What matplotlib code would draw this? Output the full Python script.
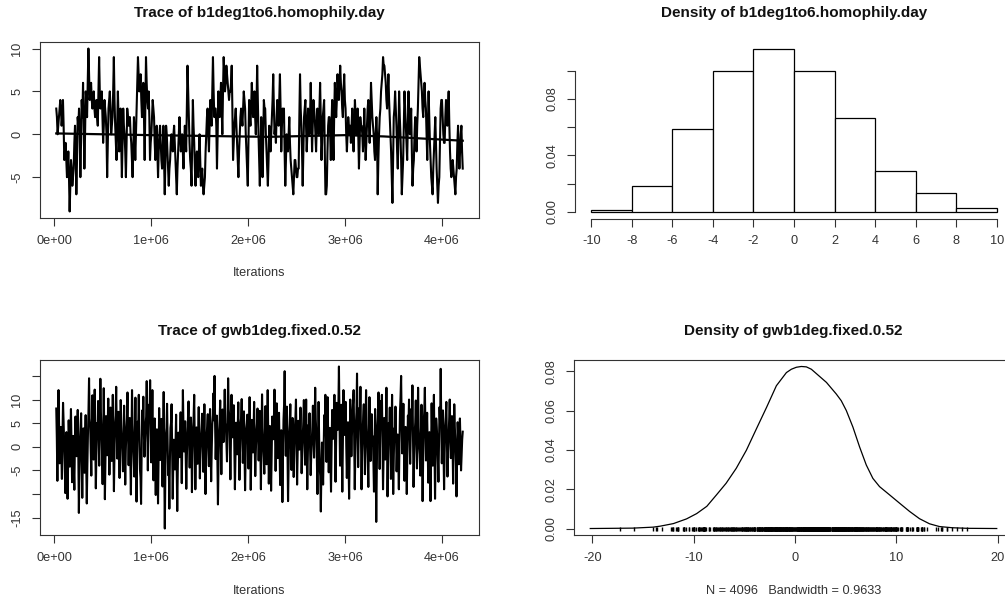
import numpy as np
import matplotlib.pyplot as plt

plt.rcParams['font.family'] = ['Liberation Sans', 'DejaVu Sans']
plt.rcParams['path.simplify'] = False

W, H = 1005, 603

# thinned MCMC sample: first and last iteration
iter_start, iter_end = 20480, 4213760

# trace of b1deg1to6.homophily.day
homophily = [
    3, 2, 0, 1, 2, 3, 4, 3, 1, 2, 4, 1, -3, -2, -1, -3, -5, -4, -2, -5,
    -9, -6, -3, -4, -6, -5, -4, -1, 1, -2, -7, -3, 2, 1, 3, 0, -5, -1, 4, 2,
    6, 1, -4, 0, 5, 4, 2, 6, 10, 7, 4, 5, 6, 4, 3, 4, 5, 3, 2, 3,
    4, 2, 1, 5, 9, 5, 3, 4, 5, 2, -1, 1, 4, 3, 2, 0, -5, -1, 3, 4,
    5, 3, 0, 1, 2, 5, 9, 4, 1, -1, -3, 1, 5, 2, -2, 0, 3, -1, -5, -1,
    3, 1, 0, -2, -5, -1, 3, 2, 1, 2, 2, 0, -1, -3, -5, -2, 2, 0, -3, 0,
    3, 6, 9, 7, 5, 6, 7, 4, 2, 4, 6, 2, -3, 3, 9, 6, 4, 3, 5, 2,
    -3, -1, 0, 2, 4, 3, 2, -1, -3, -1, 1, -2, -5, -2, 0, 1, -1, -3, -4, -2,
    1, -3, -7, -3, 1, 0, -2, -4, -6, -4, -3, -1, 0, -1, -2, 0, 1, -1, -3, -5,
    -7, -4, -2, 0, 2, 0, -2, -1, 0, -2, -4, -1, 1, 0, -2, 3, 8, 5, 2, -1,
    -3, -4, -6, -1, 4, 1, -1, -4, -6, -3, -2, -4, -5, -2, 0, -3, -6, -5, -4, -6,
    -7, -6, -5, -2, 0, 2, 3, 0, -2, 1, 4, 2, 1, 5, 9, 5, 2, 3, 3, 1,
    -4, 0, 5, 3, 2, 4, 6, 3, 0, 5, 9, 7, 5, 6, 8, 7, 6, 5, 4, 5,
    5, 6, 8, 3, -3, -1, 1, 2, 3, 1, -1, -3, -5, -2, 0, 2, 3, 2, 1, 3,
    5, 4, 3, 0, -2, -4, -6, -1, 4, 2, 1, 3, 6, 4, 2, 3, 5, 2, 0, 3,
    8, 4, 0, -3, -6, -2, 2, -1, -5, -1, 4, 3, 3, 0, -2, -4, -6, -3, 1, 0,
    -2, 0, 2, 4, 7, 3, 0, 1, -1, 2, 4, 2, 1, 4, 7, 3, -2, 1, 3, 2,
    3, -2, -6, -3, 0, -1, -2, 0, 2, -1, -3, -4, -5, -6, -7, -5, -3, -3, -4, -5,
    -5, -4, -4, 2, 7, 3, 1, -2, -6, -2, 2, 3, 4, 1, -2, 0, 3, 1, 0, 2,
    6, 2, -2, 1, 4, 3, 2, 0, -2, 1, 3, 1, 0, 3, 6, 2, -3, -1, 2, 3,
    4, -2, -7, -7, -6, -2, 1, 2, 2, 0, -3, 1, 4, 0, -3, 2, 6, 4, 2, 4,
    7, 5, 4, 6, 8, 6, 5, 3, 2, 5, 7, 4, 3, 0, -2, 0, 2, 1, 0, 1,
    -1, 1, 3, 0, -2, 1, 4, 2, 0, 1, 3, 0, -4, -1, 2, 1, 1, 0, -2, 0,
    3, 0, -3, -1, 1, 3, 4, 1, -1, 2, 6, 4, 2, 1, 0, -2, -3, 0, 2, 0,
    -7, -3, 0, 2, 3, 5, 6, 7, 9, 8, 8, 7, 6, 4, 3, 5, 7, 4, 2, 0,
    -2, -5, -8, -3, 2, 3, 5, 3, 1, -2, -4, 0, 5, 2, 0, -3, -7, -5, -3, 1,
    5, 3, 1, -1, -3, 1, 5, 2, 0, 1, 3, -2, -6, -4, -3, 0, 2, 0, -2, 1,
    3, 6, 9, 8, 7, 6, 5, 3, 2, 4, 6, 4, 3, 0, -3, 1, 5, 2, -1, -3,
    -5, -6, -7, -4, -2, 0, 2, -1, -4, -6, -8, -6, -5, -1, 3, 4, 4, 2, 0, -1,
    -1, 2, 4, 3, 1, 3, 5, 1, -2, -4, -5, -4, -3, -4, -5, -6, -7, -5, -4, -1,
    1, -2, -4, -2, 0, 1, -2, -4,
]

# smooth (lowess) line over the first trace
smooth_iter = [20480, 1.0e6, 2.2e6, 3.0e6, 3.4e6, 4213760]
smooth_val = [0.1, -0.1, -0.3, -0.1, -0.25, -0.75]

# trace of gwb1deg.fixed.0.52
gwdeg = [
    8.1, 1.9, -7.2, 3.6, 12.0, 4.4, -3.5, 0.8, 4.2, -1.7, -6.8, 2.5, 9.3, 5.2, 0.5, -3.9, -9.8, -2.4, 3.1, -0.6,
    -11.0, -3.3, 5.6, 1.1, -4.2, 2.7, 8.0, 0.4, -7.5, -1.8, 2.3, -4.6, -9.1, 0.9, 6.4, 2.0, -2.0, 3.4, 7.8, -1.2,
    -14.0, -4.8, 1.2, 4.3, 7.1, -2.9, -10.8, -3.1, 3.9, -0.7, -5.5, 1.6, 6.7, -3.4, -12.0, -4.2, 2.4, 7.5, 14.5, 6.0,
    4.6, -0.9, -6.1, 2.8, 10.9, 3.5, -2.7, 5.8, 12.1, 1.0, -8.8, -1.5, 5.0, 3.2, 9.7, 2.6, -4.0, 4.9, 14.4, 7.2,
    3.2, -2.1, -7.9, 1.4, 12.4, 2.2, -11.1, -2.8, 6.5, 3.0, -1.8, 4.7, 10.2, 1.5, -5.9, 0.3, 8.3, 4.1, -3.0, 2.6,
    11.0, 0.2, -9.4, -1.3, 4.8, 6.6, 12.7, 3.8, -2.5, 2.1, 7.4, 0.0, -6.6, 1.9, 9.9, 4.5, 1.1, -1.9, -5.2, 1.3,
    8.7, 0.6, -8.0, -0.8, 3.6, 5.9, 11.5, 2.4, -3.9, 1.7, 6.1, -2.2, -10.1, 0.5, 12.0, 4.8, 0.8, -2.5, -6.3, 2.0,
    10.4, -0.4, -11.6, -2.0, 5.3, 3.9, 11.0, 2.7, -4.7, -6.5, -12.1, -1.6, 7.7, 4.4, 10.6, 3.3, -2.1, 1.2, 4.5, 6.3,
    13.9, 4.6, -5.0, 2.9, 8.9, 6.0, 14.1, 5.5, -3.3, 3.6, 12.0, 1.8, -7.1, -0.3, 6.0, -2.7, -10.2, -1.4, 3.7, -0.9,
    -12.0, -2.6, 8.2, 2.3, -2.8, 1.4, 5.9, -1.1, -8.4, 1.5, 11.6, -3.8, -17.3, -5.2, 2.6, 4.0, 9.1, 1.0, -6.0, -3.0,
    -13.1, -2.9, 4.0, 5.1, 9.0, -0.8, -11.0, -3.6, 1.5, -1.0, -4.8, 0.6, 6.8, -4.0, -13.6, -4.4, 3.0, 0.2, -2.2, 2.5,
    7.3, -0.5, -7.7, 1.3, 12.0, 4.0, -1.0, 2.4, 5.4, -2.0, -8.9, -2.3, 2.9, 6.1, 9.6, 1.6, -4.4, 0.9, 6.2, 2.8,
    -9.6, -1.6, 3.3, 6.4, 11.0, 0.7, -9.0, -2.1, 4.1, 0.1, -3.6, 2.9, 8.4, 0.4, -6.7, -1.5, 1.9, 4.2, 7.0, 1.1,
    -5.3, 2.0, 9.0, -0.2, -10.0, -3.0, 2.2, 4.6, 6.9, 1.2, -4.1, 2.3, 8.0, -0.4, -7.3, -0.6, 4.7, 6.7, 11.3, 5.6,
    15.0, 4.5, -2.6, 2.1, 6.6, -2.4, -12.2, -3.3, 3.4, 5.7, 9.8, 2.0, -5.8, 1.9, 7.9, 3.6, 1.0, 6.3, 12.1, 5.0,
    4.3, 0.9, -3.1, 5.3, 14.5, 8.0, 6.3, 0.6, -6.9, 1.6, 11.0, 4.7, 2.0, 5.2, 8.8, -0.1, -9.0, -1.7, 5.1, 1.4,
    -1.6, 3.9, 9.4, 1.0, -7.0, -0.9, 4.9, 6.2, 10.1, 2.6, -3.4, 2.2, 7.5, -1.3, -9.2, -1.9, 3.8, 5.0, 6.8, 1.8,
    -4.6, 2.4, 10.5, 1.7, -9.1, -1.2, 5.7, 2.1, -1.2, 3.3, 9.5, 0.8, -6.2, -1.0, 3.1, 4.9, 8.1, 2.3, -2.9, 1.6,
    7.6, -0.2, -9.0, 1.5, 11.1, 4.2, 0.3, -2.3, -5.7, 1.8, 8.6, 2.7, -3.7, 3.8, 12.0, 2.1, -7.8, -1.4, 4.4, 0.6,
    -9.3, -1.9, 6.4, 3.2, 1.6, 5.9, 12.1, 3.0, -5.1, 1.7, 9.2, 2.8, -2.4, 3.5, 7.2, -0.3, -8.1, -1.6, 3.5, 0.9,
    -11.7, -2.5, 5.8, 8.9, 16.0, 5.4, -1.9, 3.6, 8.5, -0.6, -11.5, -3.8, 2.7, 4.8, 9.0, 1.2, -4.9, 0.4, 6.1, 2.2,
    -6.4, -0.8, 3.9, 6.0, 10.0, 0.9, -8.0, -1.1, 5.5, 2.4, -0.6, 3.7, 8.3, 1.4, -5.6, -1.3, 2.1, 5.3, 9.9, 3.1,
    -3.8, 3.0, 10.0, 0.3, -9.0, -1.8, 4.6, 2.5, 7.1, -0.5, -6.0, -1.9, 1.3, 4.2, 8.7, 2.6, -2.3, 4.9, 12.5, 5.8,
    3.0, -2.7, -10.0, -0.7, 9.5, 1.8, -4.5, -6.2, -13.7, -4.8, 0.9, -3.5, -8.0, -0.4, 6.7, 3.9, 11.0, 2.9, -3.2, 2.0,
    10.5, 1.9, -5.4, 0.4, 4.0, -2.4, -9.5, -0.6, 7.8, 3.3, 1.7, 6.0, 11.0, 2.2, -7.4, 0.7, 9.3, 5.4, 3.6, 8.1,
    17.0, 5.9, -4.0, 3.4, 8.9, -0.8, -9.5, 1.0, 12.0, 6.2, 2.5, 5.6, 9.5, 0.1, -6.6, -0.3, 5.2, -2.8, -11.0, -1.5,
    10.0, 3.7, -2.0, 2.6, 7.0, 9.4, 12.0, 1.3, -9.0, -1.4, 4.8, 7.3, 15.5, 4.1, -4.3, 2.9, 8.2, 5.5, 12.7, 2.2,
    -9.0, -1.0, 3.4, 6.5, 9.0, 1.1, -5.8, 3.0, 12.0, 4.8, 1.4, -2.7, -8.5, 1.6, 10.5, 2.7, -3.0, 2.4, 6.9, 0.3,
    2.2, -3.1, -9.5, 0.2, 8.0, -2.6, -15.9, -4.9, 4.5, 7.0, 11.5, 3.1, -4.7, 2.8, 9.7, 5.2, 11.0, 1.9, -9.0, -2.0,
    6.1, 1.5, -2.7, 4.4, 12.5, 2.0, -10.5, -2.2, 5.0, 3.8, 8.3, 1.0, -6.8, 1.7, 11.0, 0.8, -10.0, -2.5, 3.9, 1.2,
    8.5, 2.9, -5.2, -0.8, 2.6, -2.9, -9.0, -0.1, 7.4, 10.6, 15.0, 4.6, -1.4, 3.2, 9.1, 0.6, -7.2, -0.9, 4.2, 0.5,
    -10.0, -1.7, 6.6, 4.3, 10.0, 2.0, -3.6, 2.7, 8.0, 5.6, 13.0, 2.5, -8.5, -1.8, 2.8, 5.1, 9.8, 1.9, -4.6, 1.4,
    12.5, 4.3, 0.4, -1.6, -6.1, 2.4, 8.9, -0.5, -11.5, -2.3, 5.3, 7.6, 12.5, 3.6, -2.9, 2.1, 7.2, 0.0, -7.6, -0.8,
    3.1, -3.6, -11.5, -1.1, 9.2, 2.6, -4.0, 3.9, 11.0, 0.4, -11.0, -2.4, 6.0, 4.0, 1.8, -2.6, -7.4, 0.8, 8.4, 4.7,
    16.5, 5.0, -3.5, 2.4, 7.7, -0.9, -9.0, -1.2, 4.4, 6.3, 9.5, 1.4, -6.3, -1.5, 2.0, 5.8, 10.0, 3.3, -2.4, 1.9,
    6.5, 0.2, -7.8, 0.7, 9.0, 4.1, 1.0, -3.3, -10.5, -1.9, 5.2, 2.0, -3.7, 1.7, 6.0, 0.9, -5.0, -1.8, 1.5, 3.2,
]

# histogram of homophily (density scale)
hist_edges = [-10, -8, -6, -4, -2, 0, 2, 4, 6, 8, 10]
hist_heights = [0.0015, 0.0184, 0.0584, 0.0994, 0.1152, 0.0996, 0.0662, 0.0292, 0.0132, 0.0026]

# kernel density of gwb1deg.fixed.0.52
dens_x = [-20.2, -18.0, -16.0, -14.0, -13.3, -12.0, -10.7, -9.7, -8.7, -7.75, -6.8, -5.8,
          -4.8, -3.8, -2.8, -1.84, -0.85, -0.36, 0.13, 0.62, 1.12, 1.61, 2.1, 3.1,
          4.07, 4.56, 5.06, 5.71, 6.37, 7.03, 7.68, 8.34, 9.33, 10.31, 11.3, 12.28,
          13.27, 14.25, 15.5, 17.0, 19.9]
dens_y = [0.0, 0.0001, 0.0002, 0.0007, 0.0012, 0.0025, 0.0049, 0.0076, 0.0113, 0.0171, 0.023, 0.0306,
          0.0398, 0.0508, 0.0617, 0.0726, 0.0793, 0.081, 0.082, 0.0824, 0.0822, 0.081, 0.0788, 0.0743,
          0.0684, 0.065, 0.06, 0.0516, 0.0415, 0.0323, 0.0255, 0.0213, 0.0171, 0.0129, 0.0087, 0.005,
          0.0024, 0.001, 0.0004, 0.0001, 0.0]

iter_ticks = [0, 1e6, 2e6, 3e6, 4e6]
iter_labels = ['0e+00', '1e+06', '2e+06', '3e+06', '4e+06']

TXT = '#333333'
FS = 9.2


def box(l, t, r, b):
    return [l / W, 1 - b / H, (r - l) / W, (b - t) / H]


def r_lim(lo, hi):
    d = (hi - lo) * 0.04
    return lo - d, hi + d


def style(ax):
    ax.tick_params(direction='out', length=6, width=0.8, color=TXT,
                   labelsize=FS, labelcolor=TXT, pad=6)
    ax.tick_params(axis='y', labelrotation=90)
    for lab in ax.get_yticklabels():
        lab.set_va('center')
    for sp in ax.spines.values():
        sp.set_linewidth(0.8)
        sp.set_color(TXT)


def title(ax, s):
    ax.set_title(s, fontsize=11, fontweight='bold', pad=18, color='#111111')


fig = plt.figure(figsize=(W / 100, H / 100), dpi=100)

# --- trace 1
ax1 = fig.add_axes(box(40, 42, 479, 218))
it1 = np.linspace(iter_start, iter_end, len(homophily))
ax1.plot(it1, homophily, color='black', lw=1.5)
ax1.plot(smooth_iter, smooth_val, color='black', lw=1.6)
ax1.set_xlim(*r_lim(iter_start, iter_end))
ax1.set_ylim(*r_lim(min(homophily), max(homophily)))
ax1.set_xticks(iter_ticks, iter_labels)
ax1.set_yticks([-5, 0, 5, 10], ['-5', '0', '5', '10'])
style(ax1)
title(ax1, 'Trace of b1deg1to6.homophily.day')
fig.text(259.5 / W, 1 - 273 / H, 'Iterations', ha='center', va='center', fontsize=FS, color=TXT)

# --- histogram
ax2 = fig.add_axes(box(575, 42.5, 1013, 218.5))
ax2.bar(hist_edges[:-1], hist_heights, width=np.diff(hist_edges), align='edge',
        color='white', edgecolor='black', lw=0.9)
ax2.set_xlim(-10.8, 10.8)
ax2.set_ylim(*r_lim(0, max(hist_heights)))
ax2.set_xticks(hist_edges, [str(v) for v in hist_edges])
ax2.set_yticks([0, 0.02, 0.04, 0.06, 0.08, 0.10], ['0.00', '', '0.04', '', '0.08', ''])
style(ax2)
ax2.spines['top'].set_visible(False)
ax2.spines['right'].set_visible(False)
ax2.spines['left'].set_bounds(0, 0.10)
ax2.spines['bottom'].set_bounds(-10, 10)
title(ax2, 'Density of b1deg1to6.homophily.day')

# --- trace 2
ax3 = fig.add_axes(box(40, 360, 479, 535))
it2 = np.linspace(iter_start, iter_end, len(gwdeg))
ax3.plot(it2, gwdeg, color='black', lw=1.5)
ax3.set_xlim(*r_lim(iter_start, iter_end))
ax3.set_ylim(*r_lim(min(gwdeg), max(gwdeg)))
ax3.set_xticks(iter_ticks, iter_labels)
ax3.set_yticks([-15, -10, -5, 0, 5, 10, 15], ['-15', '', '-5', '0', '5', '10', ''])
style(ax3)
title(ax3, 'Trace of gwb1deg.fixed.0.52')
fig.text(259.5 / W, 1 - 591 / H, 'Iterations', ha='center', va='center', fontsize=FS, color=TXT)

# --- density
ax4 = fig.add_axes(box(574, 360, 1013, 535))
ax4.plot(dens_x, dens_y, color='black', lw=0.9)
ax4.plot(gwdeg, np.zeros(len(gwdeg)), '|', color='black', ms=3.5, mew=1.0)
ax4.set_xlim(*r_lim(min(dens_x), max(dens_x)))
ax4.set_ylim(*r_lim(0, max(dens_y)))
ax4.set_xticks([-20, -10, 0, 10, 20], ['-20', '-10', '0', '10', '20'])
ax4.set_yticks([0, 0.02, 0.04, 0.06, 0.08], ['0.00', '0.02', '0.04', '0.06', '0.08'])
style(ax4)
title(ax4, 'Density of gwb1deg.fixed.0.52')
fig.text(793.7 / W, 1 - 591 / H, 'N = 4096   Bandwidth = 0.9633', ha='center', va='center',
         fontsize=FS, color=TXT)

fig.savefig('out.png', dpi=100)
